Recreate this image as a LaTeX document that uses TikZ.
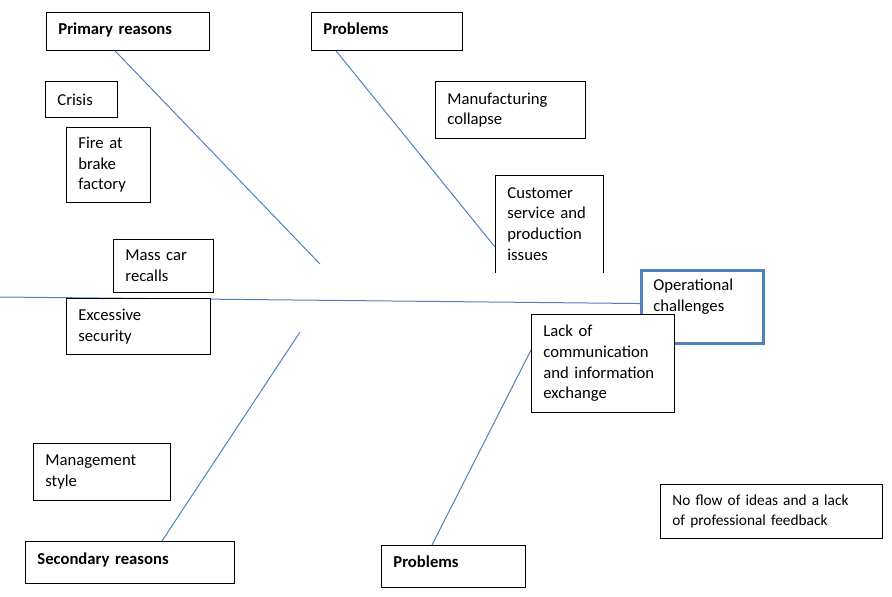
\documentclass[tikz,border=0pt]{standalone}
\usepackage{fontspec}
\setmainfont{Carlito}
\definecolor{fishblue}{RGB}{79,129,189}
\tikzset{
    box/.style={draw, fill=white, anchor=north west, align=left, inner xsep=9pt, inner ysep=0pt,
        line width=0.6pt, font=\fontsize{12.5}{15.4}\selectfont},
    headbox/.style={box, font=\fontsize{12.5}{15.4}\selectfont\bfseries},
    bone/.style={draw=fishblue, line width=0.75pt},
    effectbox/.style={draw=fishblue, line width=2.25pt, fill=white, anchor=north west,
        minimum width=91.5pt, minimum height=54.75pt, inner sep=0pt},
    effecttext/.style={anchor=west, align=left, inner sep=0pt, font=\fontsize{12.5}{15.4}\selectfont},
}

\begin{document}
\begin{tikzpicture}[x=0.75pt, y=-0.75pt]
    \useasboundingbox (0,0) rectangle (892,596);

    \coordinate (tail) at (0,297);
    \coordinate (primtip) at (320,264);
    \coordinate (probtoptip) at (495,247);
    \coordinate (sectip) at (300,332);
    \coordinate (probbottip) at (531,350);

    \node[headbox, text width=104pt, text height=16.5pt, text depth=12pt] (primary) at (46,12) {Primary reasons};
    \node[headbox, text width=95pt, text height=16.5pt, text depth=12pt] (probtop) at (311,12) {Problems};
    \node[headbox, text width=138.75pt, text height=17.25pt, text depth=14.25pt] (secondary) at (25,541) {Secondary reasons};
    \node[headbox, text width=90pt, text height=16.5pt, text depth=15pt] (probbot) at (381,545) {Problems};

    \node[effectbox] (effect) at (640,269) {};
    \node[effecttext] (effectlabel) at (653,296.5) {Operational\\challenges};

    \draw[bone] (tail) -- ([yshift=2.6pt]effect.west);
    \draw[bone] ([xshift=51.75pt]primary.south west) -- (primtip);
    \draw[bone] ([xshift=18.75pt]probtop.south west) -- (probtoptip);
    \draw[bone] ([xshift=102.75pt]secondary.north west) -- (sectip);
    \draw[bone] ([xshift=38.25pt]probbot.north west) -- (probbottip);

    \node[box, text width=36pt, minimum height=27pt] (crisis) at (45,81) {Crisis};
    \node[box, text width=45pt, minimum height=56.25pt] (fire) at (66,127) {Fire at\\brake\\factory};
    \node[box, text width=57pt, minimum height=39.75pt] (recalls) at (113,239) {Mass car\\recalls};
    \node[box, text width=90pt, minimum height=42pt] (security) at (66,298) {Excessive\\security};
    \node[box, text width=84.75pt, minimum height=42.75pt] (management) at (33,443) {Management\\style};

    \node[box, text width=94.5pt, minimum height=42.75pt] (manufacturing) at (435,81) {Manufacturing\\collapse};
    \node[box, draw=none, text width=63pt, minimum height=72.75pt] (customer) at (495,175)
        {Customer\\service and\\production\\issues};
    \draw[line width=0.6pt] (customer.south west) -- (customer.north west) -- (customer.north east) -- (customer.south east);
    \node[box, text width=89.25pt, minimum height=73.5pt] (communication) at (531,314)
        {Lack of\\communication\\and information\\exchange};
    \node[box, text width=148.5pt, minimum height=40.5pt, font=\fontsize{11.5}{15.4}\selectfont] (feedback) at (660,484)
        {No flow of ideas and a lack\\of professional feedback};
\end{tikzpicture}
\end{document}
